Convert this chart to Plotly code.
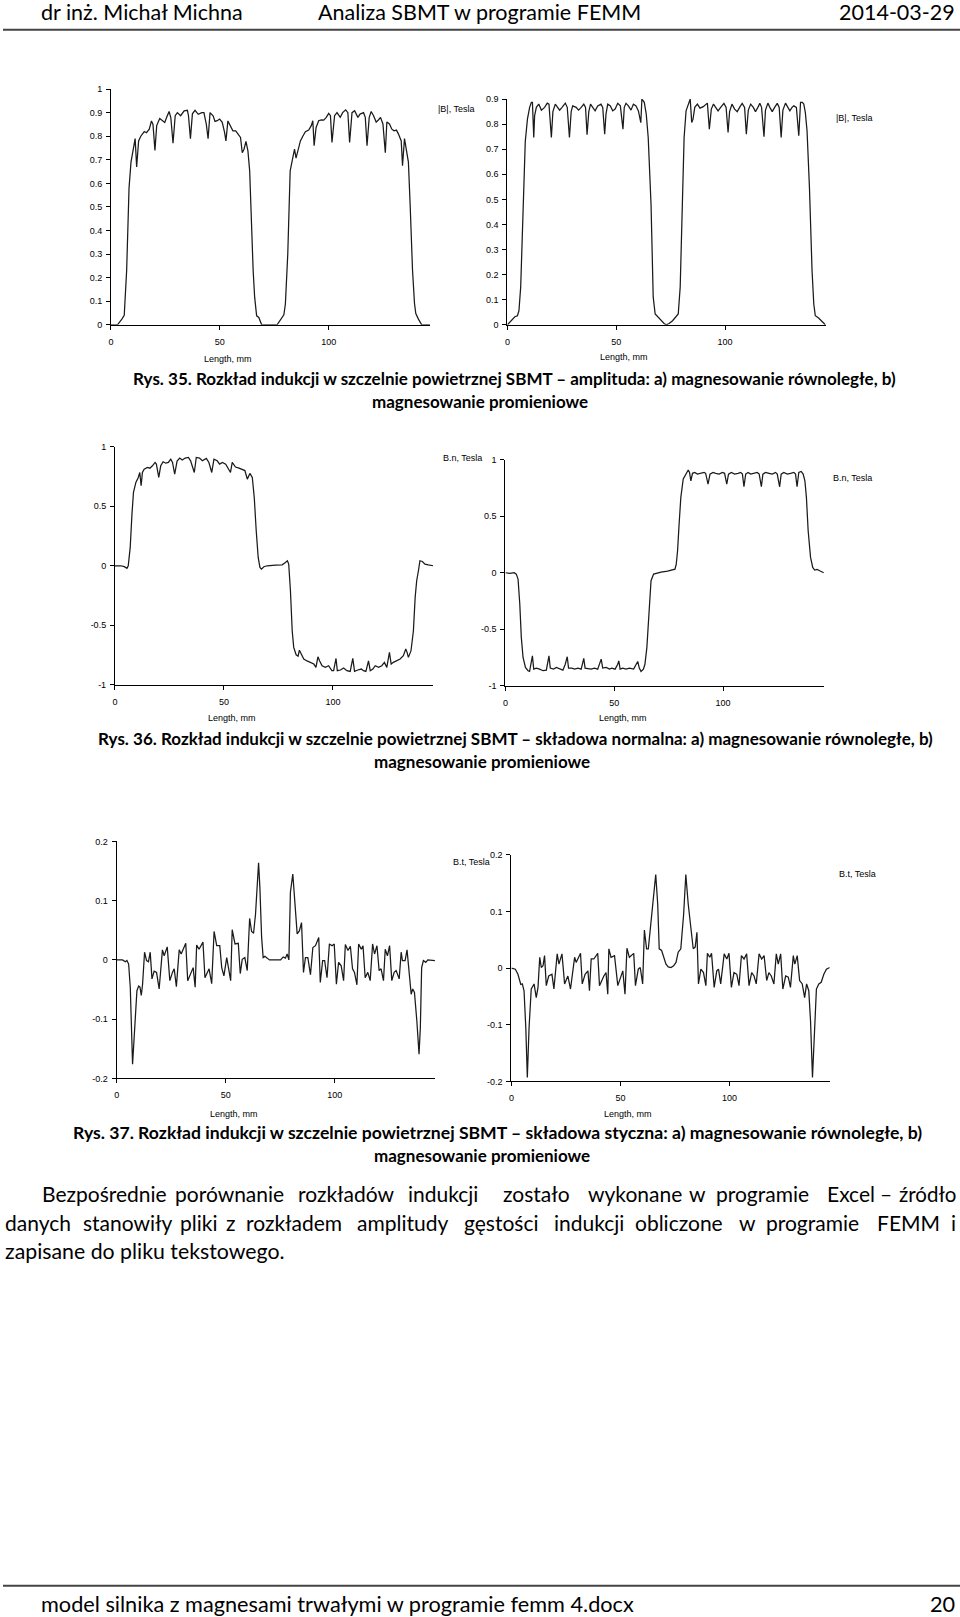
import plotly.graph_objects as go

W, H = 960, 1617

# ---------------- data (Length in mm, induction in Tesla) ----------------
B_abs_parallel = [(0,0),(3,0),(5,0.024),(6.1,0.04),(7.2,0.23),(8.3,0.58),(9.2,0.69),(10.2,0.75),(11.1,0.79),(11.8,0.67),(12.7,0.78),(13.7,0.80),(15.3,0.82),(16.3,0.815),(17.6,0.83),(18.6,0.865),(19.3,0.85),(20.2,0.74),(21,0.845),(22.4,0.875),(23.7,0.865),(24.7,0.858),(25.5,0.878),(26.7,0.905),(27.5,0.878),(28.5,0.77),(29.5,0.887),(30.5,0.9),(32,0.887),(33.6,0.908),(35.1,0.91),(35.6,0.887),(36.5,0.79),(37.4,0.895),(38.6,0.91),(40.1,0.893),(41.7,0.90),(42.7,0.90),(43.8,0.85),(44.6,0.79),(45.5,0.90),(46.9,0.887),(47.8,0.863),(48.8,0.866),(49.9,0.873),(51.1,0.859),(52.2,0.815),(52.8,0.78),(53.7,0.865),(55,0.837),(56,0.823),(57.3,0.823),(58.3,0.809),(59.5,0.795),(60.3,0.73),(61.1,0.745),(62,0.778),(62.9,0.738),(63.7,0.653),(64.4,0.44),(65.3,0.23),(66,0.116),(66.9,0.038),(67.9,0.031),(69.2,0),(76.3,0),(77.9,0.02),(79.4,0.042),(80.1,0.088),(81.2,0.3),(82.3,0.653),(83.2,0.70),(84.3,0.745),(85,0.707),(86,0.75),(87,0.78),(88.1,0.80),(89.3,0.819),(90.8,0.826),(92,0.845),(92.7,0.866),(93.3,0.76),(94.2,0.837),(95.4,0.866),(96.6,0.869),(97.7,0.868),(98.8,0.879),(100,0.897),(100.8,0.887),(101.5,0.774),(102.7,0.887),(103.8,0.90),(105.3,0.88),(106.4,0.90),(107.8,0.912),(108.8,0.90),(109.6,0.774),(110.7,0.90),(111.9,0.908),(113.4,0.88),(114.4,0.894),(116,0.90),(116.8,0.88),(117.6,0.76),(118.6,0.88),(119.5,0.905),(120.6,0.887),(121.8,0.86),(122.9,0.87),(123.8,0.88),(124.9,0.852),(126,0.73),(126.7,0.86),(127.9,0.852),(129,0.83),(130,0.823),(131.1,0.826),(132,0.81),(133.3,0.78),(133.9,0.675),(134.8,0.79),(135.8,0.74),(136.6,0.69),(137.4,0.51),(138.5,0.23),(139.4,0.09),(140,0.048),(141.2,0.024),(142.7,0),(146.5,0)]

B_abs_radial = [(0,0),(1.5,0.013),(3.4,0.032),(4.6,0.036),(5.3,0.056),(6.1,0.15),(7.2,0.48),(8.2,0.73),(9.2,0.82),(10.2,0.867),(11,0.887),(11.5,0.887),(12.1,0.747),(12.5,0.834),(13.3,0.867),(14.4,0.88),(15.6,0.856),(17.1,0.867),(18.3,0.884),(19.1,0.88),(20.2,0.747),(20.9,0.85),(22,0.88),(23.2,0.865),(24,0.856),(25.1,0.867),(26.6,0.884),(27.5,0.867),(28.5,0.747),(29.3,0.85),(30,0.873),(31.6,0.867),(32.7,0.856),(33.9,0.867),(35.1,0.88),(35.9,0.867),(36.6,0.758),(37.4,0.85),(38.2,0.88),(39.2,0.867),(40.3,0.853),(41.5,0.873),(43,0.88),(43.8,0.867),(44.7,0.76),(45.3,0.84),(46.1,0.88),(47.3,0.873),(48.4,0.853),(49.5,0.86),(50.7,0.883),(51.9,0.873),(53.1,0.78),(53.7,0.867),(54.5,0.883),(55.6,0.873),(56.8,0.856),(57.9,0.88),(59.1,0.873),(60.2,0.853),(61,0.813),(61.3,0.806),(61.8,0.9),(62.9,0.887),(63.8,0.84),(64.7,0.747),(66,0.48),(67,0.11),(67.9,0.043),(69,0.032),(70.5,0.016),(72,0.005),(73,0),(74.3,0.005),(75.9,0.016),(77.4,0.03),(78.5,0.043),(79.4,0.15),(80.2,0.415),(81.2,0.747),(82.1,0.853),(83.1,0.88),(84,0.9),(84.7,0.807),(85.3,0.82),(86.1,0.867),(87.3,0.88),(88.5,0.864),(90,0.87),(91.9,0.884),(92.8,0.78),(93.7,0.86),(94.7,0.88),(95.7,0.867),(96.8,0.853),(98,0.867),(99.5,0.883),(100.5,0.867),(101.4,0.767),(102.1,0.85),(103.2,0.88),(104.4,0.86),(105.6,0.85),(106.9,0.87),(107.9,0.883),(109,0.867),(109.8,0.76),(110.7,0.856),(111.8,0.88),(113,0.867),(114,0.85),(115.1,0.867),(116,0.883),(116.8,0.867),(117.9,0.75),(118.6,0.856),(119.7,0.884),(120.6,0.867),(121.7,0.85),(122.8,0.867),(124,0.883),(124.9,0.867),(125.8,0.747),(126.6,0.856),(127.8,0.884),(128.9,0.867),(129.8,0.853),(130.8,0.867),(131.6,0.873),(132.8,0.867),(133.9,0.754),(134.7,0.887),(135.5,0.887),(136.2,0.88),(136.9,0.847),(137.7,0.774),(138.8,0.548),(140,0.215),(140.8,0.082),(141.5,0.036),(143,0.027),(144.6,0.013),(146.1,0)]

Bn_parallel = [(0,0),(2.7,0),(4.3,-0.008),(5.5,-0.022),(6.1,0),(7,0.154),(7.8,0.434),(8.5,0.616),(9.6,0.70),(10.7,0.742),(11.4,0.784),(12,0.672),(12.6,0.784),(13.4,0.812),(14.9,0.826),(16,0.82),(17.2,0.84),(18.4,0.868),(19,0.854),(20.1,0.742),(21,0.84),(22.1,0.874),(23.3,0.862),(24.5,0.868),(25.6,0.896),(26.4,0.868),(27.4,0.77),(28.5,0.88),(29.7,0.905),(30.9,0.888),(32.2,0.905),(33.7,0.91),(34.7,0.882),(36.4,0.784),(37.3,0.91),(38.8,0.905),(40.1,0.882),(41.9,0.902),(43.1,0.868),(44.4,0.784),(45.4,0.896),(46.9,0.882),(48,0.854),(49.3,0.868),(50.8,0.854),(52.3,0.812),(53,0.784),(53.8,0.868),(55.3,0.83),(56.9,0.82),(58.4,0.812),(59.6,0.80),(60.7,0.728),(61.9,0.776),(63,0.742),(63.9,0.574),(64.8,0.294),(65.7,0.07),(66.5,-0.014),(67.2,-0.028),(68.3,-0.008),(69.8,0),(73.6,0.006),(76.7,0.008),(78.2,0.028),(79.1,0.042),(79.7,0.014),(80.5,-0.21),(81.3,-0.546),(82,-0.686),(83.1,-0.748),(84,-0.76),(84.6,-0.71),(85.5,-0.748),(86.6,-0.784),(88.1,-0.8),(89.6,-0.812),(91.2,-0.826),(92.2,-0.854),(93.1,-0.765),(93.9,-0.8),(95,-0.84),(96.5,-0.854),(98,-0.84),(99.5,-0.882),(100.3,-0.882),(101.4,-0.779),(102,-0.882),(103.4,-0.876),(104.9,-0.86),(106.4,-0.882),(107.9,-0.888),(109.1,-0.779),(109.9,-0.888),(111.4,-0.876),(113,-0.868),(114,-0.882),(115.1,-0.888),(116.3,-0.8),(117.1,-0.882),(118.3,-0.868),(119.4,-0.84),(120.9,-0.854),(122.4,-0.84),(123.6,-0.812),(124.7,-0.854),(125.9,-0.728),(126.7,-0.826),(127.7,-0.812),(129.3,-0.8),(130.8,-0.784),(132.3,-0.756),(133.4,-0.70),(134,-0.728),(134.6,-0.77),(135.8,-0.714),(136.9,-0.546),(137.7,-0.266),(138.4,-0.126),(139.2,-0.042),(139.9,0.042),(141,0.036),(142.2,0.014),(143.7,0.008),(146,0)]

Bn_radial = [(0,0),(2,-0.006),(4,0),(5,-0.012),(5.8,-0.056),(6.6,-0.277),(7.3,-0.572),(8.1,-0.75),(9.2,-0.838),(10.4,-0.867),(11.1,-0.873),(11.8,-0.81),(12.4,-0.735),(13,-0.853),(14.2,-0.844),(15.7,-0.853),(17.3,-0.867),(18.8,-0.862),(20,-0.735),(20.6,-0.844),(22.1,-0.853),(23.4,-0.838),(24.9,-0.853),(26.4,-0.862),(27.5,-0.81),(28.4,-0.743),(29,-0.844),(30.5,-0.844),(31.8,-0.853),(33.3,-0.844),(34.8,-0.853),(36,-0.758),(36.6,-0.844),(38.2,-0.853),(39.4,-0.853),(40.9,-0.844),(42.4,-0.853),(44,-0.764),(44.7,-0.844),(46.3,-0.838),(47.8,-0.853),(48.9,-0.844),(50.4,-0.853),(51.6,-0.81),(52.1,-0.78),(52.7,-0.853),(53.9,-0.844),(55.4,-0.853),(57,-0.844),(58.9,-0.853),(60,-0.81),(60.8,-0.785),(61.5,-0.844),(62.3,-0.873),(63.4,-0.853),(64.1,-0.81),(65,-0.66),(65.8,-0.395),(66.9,-0.07),(68.1,-0.012),(69.2,-0.006),(71.5,0.006),(74.5,0.015),(76.8,0.024),(77.9,0.032),(78.5,0.077),(79.1,0.195),(79.8,0.43),(80.6,0.667),(81.7,0.83),(82.9,0.873),(84,0.909),(84.6,0.888),(85.2,0.814),(85.95,0.88),(87,0.888),(88.2,0.873),(89.8,0.88),(91.3,0.888),(92,0.88),(93.1,0.785),(94,0.873),(95.4,0.888),(96.6,0.88),(98.2,0.873),(99.7,0.888),(100.7,0.88),(101.7,0.785),(102.5,0.873),(103.8,0.888),(105.3,0.873),(106.9,0.88),(108.1,0.888),(108.9,0.873),(109.6,0.761),(110.4,0.873),(111.5,0.888),(112.7,0.873),(114.2,0.88),(115.7,0.888),(116.6,0.873),(117.6,0.761),(118.3,0.873),(119.5,0.888),(121.1,0.88),(122.6,0.873),(124.1,0.888),(124.9,0.873),(126,0.761),(126.7,0.873),(127.9,0.888),(129.5,0.873),(131,0.88),(132.5,0.888),(133.3,0.873),(134,0.761),(134.8,0.888),(135.9,0.897),(136.8,0.873),(137.6,0.814),(138.3,0.667),(139.1,0.372),(140.2,0.136),(141.2,0.047),(142.1,0.024),(143.2,0.03),(144.4,0.018),(146.3,0)]

Bt_parallel = [(0,0),(2.7,0),(4,-0.003),(4.7,-0.001),(5.5,-0.007),(6.25,-0.046),(7.3,-0.176),(8.4,-0.103),(9.3,-0.052),(10.1,-0.044),(10.7,-0.046),(11.3,-0.06),(11.9,-0.041),(12.8,0.013),(13.7,-0.001),(14.6,-0.003),(15.4,0.013),(16.2,-0.032),(17.2,-0.019),(18.3,-0.021),(19.5,-0.049),(21,0.017),(21.8,0.007),(23.2,0.022),(24.4,-0.035),(25.6,-0.021),(26.4,-0.015),(27.4,-0.045),(28.7,0.017),(29.6,0.01),(31.7,0.028),(32.6,-0.035),(34,-0.021),(35.1,-0.013),(36,-0.046),(36.7,0.025),(37.8,0.018),(39.6,0.03),(40.5,-0.03),(42.4,-0.015),(43.6,-0.04),(44.7,0.048),(45.9,0.024),(47.3,0.024),(48.2,-0.013),(49.2,-0.027),(50.5,0.004),(51.5,-0.015),(52.3,-0.035),(53,0.051),(54.3,0.027),(55.8,0.028),(56.7,-0.023),(57.6,0.001),(58.8,0.004),(59.9,-0.018),(61,0.07),(61.9,0.048),(62.8,0.045),(63.7,0.077),(64.5,0.122),(65.1,0.164),(65.7,0.122),(66.5,0.038),(67.2,0.004),(68,0.006),(69.1,0.003),(70.1,0),(75.2,0),(76.4,0.005),(77.4,0.003),(78.2,0.01),(79,0),(79.7,0.114),(80.8,0.145),(81.7,0.102),(82.8,0.044),(83.8,0.049),(84.8,0.063),(85.7,-0.021),(86.6,0.004),(87.7,0.004),(88.9,-0.025),(90,0.021),(91.2,0.024),(92.7,0.038),(93.4,-0.038),(94.5,-0.001),(95.4,-0.001),(96.5,-0.03),(97.6,0.027),(98.8,0.024),(99.8,0.027),(100.8,-0.041),(101.8,-0.004),(103,-0.01),(104.1,-0.035),(104.9,0.026),(106.1,0.016),(107.2,0.023),(108.2,-0.015),(109.1,-0.021),(110.2,-0.042),(111,0.027),(112.2,0.018),(113,0.024),(114,-0.03),(115.2,-0.021),(116.3,-0.035),(117.4,0.027),(118.3,0.01),(119.4,0.024),(120.4,-0.018),(121.3,-0.015),(122.4,-0.035),(123.2,0.018),(124.2,0.007),(125.2,0.024),(126.2,-0.035),(127.3,-0.021),(128.2,-0.018),(129.6,-0.032),(130.5,0.013),(131.1,-0.001),(132.3,-0.001),(133.2,0.017),(134.3,-0.03),(135.1,-0.058),(135.8,-0.049),(136.6,-0.055),(137.7,-0.103),(138.7,-0.159),(139.3,-0.114),(139.9,-0.013),(140.7,-0.001),(141.8,-0.004),(142.7,0),(144.5,0),(146,-0.001)]

Bt_radial = [(0,0),(1.8,-0.002),(3,-0.011),(4.3,-0.029),(5,-0.028),(5.8,-0.04),(6.6,-0.105),(7.3,-0.193),(8.1,-0.105),(9.1,-0.037),(10.4,-0.028),(11.4,-0.052),(12.2,-0.034),(13,0.019),(13.7,0.001),(14.5,0.004),(15.2,0.022),(16,-0.031),(17.1,-0.014),(18.6,-0.011),(19.5,-0.037),(21,0.025),(21.8,0.007),(23.2,0.025),(24.4,-0.028),(25.9,-0.014),(27.1,-0.037),(29,0.019),(29.7,0.01),(31.7,0.026),(32.5,-0.028),(33.8,-0.011),(35.1,-0.005),(35.8,-0.04),(36.6,0.016),(37.8,0.016),(39.6,0.026),(40.4,-0.031),(42.4,-0.014),(43.4,-0.008),(44.2,-0.046),(44.7,0.034),(45.7,0.019),(47.3,0.022),(48.8,-0.031),(50,-0.016),(51.1,-0.005),(52.1,-0.046),(53,0.035),(54.1,0.019),(56.1,0.026),(56.9,-0.031),(58.2,-0.002),(59.1,0.001),(60.2,-0.028),(61,0.067),(62,0.034),(62.8,0.034),(64,0.084),(65.2,0.125),(66.2,0.165),(67.1,0.113),(67.8,0.034),(68.9,0.031),(69.8,0.019),(70.9,0.007),(71.95,0.002),(73.2,0.001),(74.4,0.004),(75.5,0.01),(76.5,0.028),(77.7,0.034),(79,0.095),(80,0.165),(81.1,0.113),(82.3,0.072),(83.4,0.034),(84.3,0.037),(85.1,0.063),(85.8,-0.028),(86.9,-0.002),(88.1,-0.008),(89.2,-0.031),(89.9,0.026),(91,0.019),(91.8,0.026),(93,-0.034),(94.2,-0.005),(95,-0.002),(96,-0.028),(97.6,0.025),(98.8,0.016),(99.8,0.026),(100.9,-0.034),(102.1,-0.008),(103.4,-0.011),(104.4,-0.031),(105.5,0.022),(106.7,0.016),(107.9,0.025),(109,-0.031),(110.2,-0.008),(111.3,-0.014),(112.3,-0.028),(113.6,0.025),(114.8,0.016),(115.9,0.022),(117.1,-0.022),(118.1,-0.008),(119.2,-0.014),(120.4,-0.028),(121.5,0.025),(122.4,0.007),(123.5,0.025),(124.5,-0.037),(125.8,-0.014),(127,-0.016),(128,-0.034),(129.3,0.022),(130,0.007),(131.1,0.022),(132.2,-0.022),(133.4,-0.028),(134.5,-0.052),(135.4,-0.028),(136.4,-0.04),(137.2,-0.093),(138.1,-0.193),(139,-0.105),(139.9,-0.037),(141,-0.028),(142.1,-0.025),(143.3,-0.011),(144.5,-0.002),(146,0.001)]

x_ticks = [0, 50, 100]
x_tick_labels = ["0", "50", "100"]
y_ticks_abs = [0, 0.1, 0.2, 0.3, 0.4, 0.5, 0.6, 0.7, 0.8, 0.9, 1]
y_ticks_abs_labels = ["0", "0.1", "0.2", "0.3", "0.4", "0.5", "0.6", "0.7", "0.8", "0.9", "1"]
y_ticks_n = [-1, -0.5, 0, 0.5, 1]
y_ticks_n_labels = ["-1", "-0.5", "0", "0.5", "1"]
y_ticks_t = [-0.2, -0.1, 0, 0.1, 0.2]
y_ticks_t_labels = ["-0.2", "-0.1", "0", "0.1", "0.2"]

x_title = "Length, mm"
legend_abs = "|B|, Tesla"
legend_n = "B.n, Tesla"
legend_t = "B.t, Tesla"

header_left = "dr inż. Michał Michna"
header_mid = "Analiza SBMT w programie FEMM"
header_right = "2014-03-29"
caption35 = ["Rys. 35. Rozkład indukcji w szczelnie powietrznej SBMT – amplituda: a) magnesowanie równoległe, b)",
             "magnesowanie promieniowe"]
caption36 = ["Rys. 36. Rozkład indukcji w szczelnie powietrznej SBMT – składowa normalna: a) magnesowanie równoległe, b)",
             "magnesowanie promieniowe"]
caption37 = ["Rys. 37. Rozkład indukcji w szczelnie powietrznej SBMT – składowa styczna: a) magnesowanie równoległe, b)",
             "magnesowanie promieniowe"]
body_line1 = ["Bezpośrednie", "porównanie", "rozkładów", "indukcji", "zostało", "wykonane", "w", "programie", "Excel", "–", "źródło"]
body_line2 = ["danych", "stanowiły", "pliki", "z", "rozkładem", "amplitudy", "gęstości", "indukcji", "obliczone", "w", "programie", "FEMM", "i"]
body_line3 = "zapisane do pliku tekstowego."
footer_left = "model silnika z magnesami trwałymi w programie femm 4.docx"
footer_right = "20"

# ---------------- layout (pixel geometry) ----------------
TEXT_FONT = "Lato"
CHART_FONT = "Liberation Sans"


def Y(y):
    """page pixel row -> corrected pixel row (compensates the measured vertical render offset)"""
    return (y - 4.2) / 0.9939


def fy(y):
    return 1 - Y(y) / H


panels = [
    dict(data=B_abs_parallel, px=(108.3, 428.3), py=(88.3, 324), xr=[0, 146.5], yr=[0, 1],
         yt=(y_ticks_abs, y_ticks_abs_labels), leg=legend_abs, legpos=(435, 108), labpos=(225.7, 358)),
    dict(data=B_abs_radial, px=(506, 826), py=(98.3, 324), xr=[0, 146.6], yr=[0, 0.9],
         yt=(y_ticks_abs[:-1], y_ticks_abs_labels[:-1]), leg=legend_abs, legpos=(835, 117.7), labpos=(623.3, 356.7)),
    dict(data=Bn_parallel, px=(112.3, 431.6), py=(446, 684), xr=[0, 146], yr=[-1, 1],
         yt=(y_ticks_n, y_ticks_n_labels), leg=legend_n, legpos=(440, 457.7), labpos=(229.3, 717.3)),
    dict(data=Bn_radial, px=(504, 823.4), py=(459, 685), xr=[0, 146.3], yr=[-1, 1],
         yt=(y_ticks_n, y_ticks_n_labels), leg=legend_n, legpos=(831.7, 477.7), labpos=(621.7, 717.3)),
    dict(data=Bt_parallel, px=(114, 433.3), py=(840.7, 1077.7), xr=[0, 146], yr=[-0.2, 0.2],
         yt=(y_ticks_t, y_ticks_t_labels), leg=legend_t, legpos=(450, 861), labpos=(231.7, 1113.3)),
    dict(data=Bt_radial, px=(510, 829.3), py=(854, 1080.7), xr=[0, 146], yr=[-0.2, 0.2],
         yt=(y_ticks_t, y_ticks_t_labels), leg=legend_t, legpos=(838, 873), labpos=(627.3, 1113.3)),
]

fig = go.Figure()
layout = dict(width=W, height=H, margin=dict(l=0, r=0, t=0, b=0), paper_bgcolor="white",
              plot_bgcolor="white", showlegend=False)
annotations = []


def ann(x, y, s, size, anchor="left", family=TEXT_FONT, color="#000"):
    annotations.append(dict(x=x / W, y=fy(y), xref="paper", yref="paper", text=s, showarrow=False,
                            xanchor=anchor, yanchor="middle", borderpad=0,
                            font=dict(family=family, size=size, color=color)))


for i, p in enumerate(panels, start=1):
    xs = [a for a, b in p["data"]]
    ys = [b for a, b in p["data"]]
    fig.add_trace(go.Scatter(x=xs, y=ys, mode="lines", line=dict(color="#1a1a1a", width=1.25),
                             xaxis=f"x{i}", yaxis=f"y{i}", hoverinfo="skip"))
    common = dict(showline=True, linecolor="#000", linewidth=1, ticks="outside", ticklen=4, tickwidth=1,
                  tickcolor="#000", showgrid=False, zeroline=False,
                  tickfont=dict(family=CHART_FONT, size=9, color="#000"))
    layout[f"xaxis{i}"] = dict(domain=[p["px"][0] / W, p["px"][1] / W], range=p["xr"], anchor=f"y{i}",
                               tickvals=x_ticks, ticktext=x_tick_labels, ticklabelstandoff=4, **common)
    layout[f"yaxis{i}"] = dict(domain=[fy(p["py"][1]), fy(p["py"][0])], range=p["yr"], anchor=f"x{i}",
                               tickvals=p["yt"][0], ticktext=p["yt"][1], ticklabelstandoff=2, **common)
    ann(p["legpos"][0], p["legpos"][1], p["leg"], 9, family=CHART_FONT)
    ann(p["labpos"][0], p["labpos"][1], x_title, 9, anchor="center", family=CHART_FONT)

# header / footer
ann(37, 11, header_left, 21.5)
ann(478, 11, header_mid, 21.5, anchor="center")
ann(956, 11, header_right, 21.5, anchor="right")
ann(37, 1603, footer_left, 21.7)
ann(956, 1603, footer_right, 21.7, anchor="right")

# captions
ann(513, 378, "<b>" + caption35[0] + "</b>", 17, anchor="center")
ann(478, 401, "<b>" + caption35[1] + "</b>", 17, anchor="center")
ann(514, 738, "<b>" + caption36[0] + "</b>", 17, anchor="center")
ann(480, 761, "<b>" + caption36[1] + "</b>", 17, anchor="center")
ann(496, 1132, "<b>" + caption37[0] + "</b>", 17.6, anchor="center")
ann(480, 1155, "<b>" + caption37[1] + "</b>", 17, anchor="center")

# justified body text (word start positions; last word right-aligned to the margin)
line1_x = [38.5, 172, 295, 405, 501, 586, 687, 714.5, 826, 879, 957]
line2_x = [1, 79, 177, 223, 243, 354, 461, 552, 633, 737, 764.5, 876, 957]
for k, (w, x) in enumerate(zip(body_line1, line1_x)):
    last = k == len(body_line1) - 1
    ann(x, 1193, w, 20.5 if last else 21, anchor="right" if last else "left")
for k, (w, x) in enumerate(zip(body_line2, line2_x)):
    ann(x, 1222, w, 21, anchor="right" if k == len(body_line2) - 1 else "left")
ann(1, 1250, body_line3, 21.3)

layout["annotations"] = annotations
layout["shapes"] = [
    dict(type="line", xref="paper", yref="paper", x0=0, x1=1, y0=fy(29), y1=fy(29),
         line=dict(color="#444", width=2)),
    dict(type="line", xref="paper", yref="paper", x0=0, x1=1, y0=fy(1585), y1=fy(1585),
         line=dict(color="#444", width=2)),
]
fig.update_layout(**layout)

post = ("document.documentElement.style.margin='0';document.body.style.margin='0';"
        "document.documentElement.style.overflow='hidden';document.body.style.overflow='hidden';"
        "var d=document.getElementById('{plot_id}');d.style.position='fixed';d.style.top='0px';d.style.left='0px';")
fig.write_html("out.html", config={"displayModeBar": False}, post_script=post)
